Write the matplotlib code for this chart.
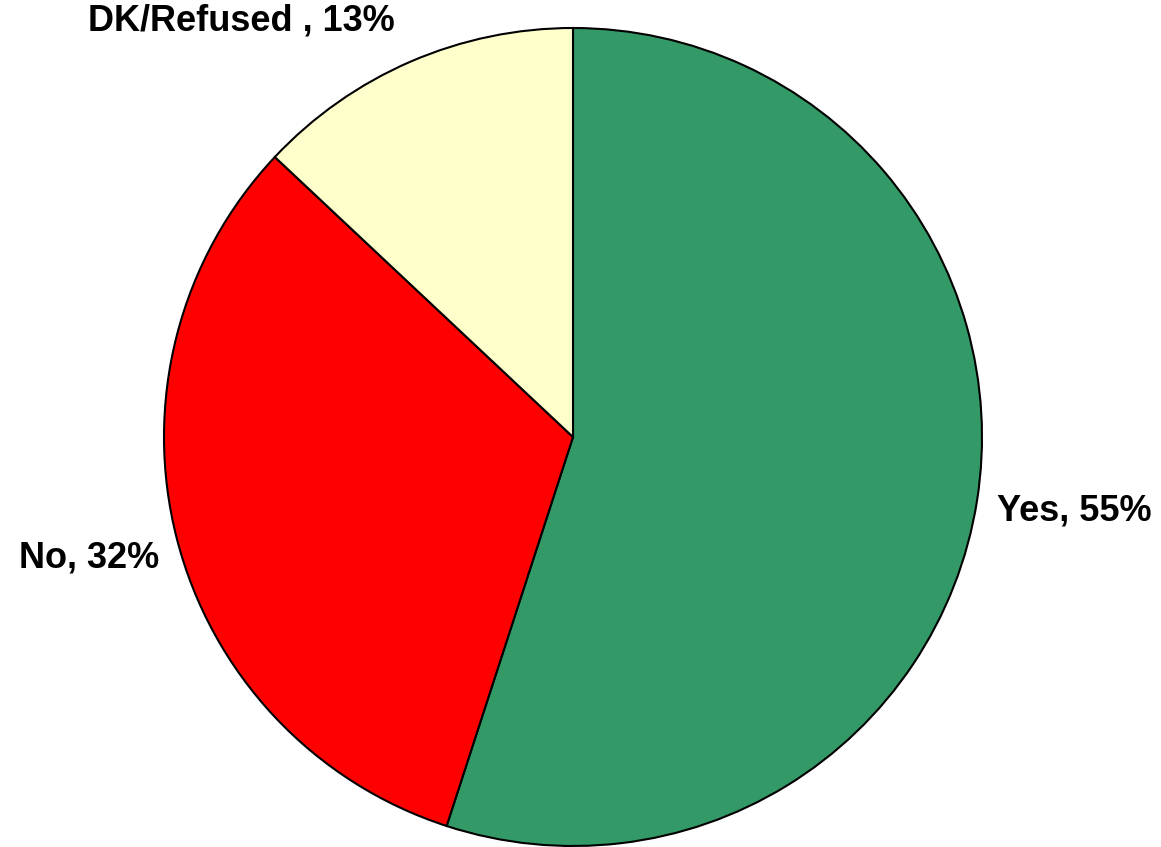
import numpy as np
import matplotlib.pyplot as plt

plt.rcParams['font.family'] = ['Liberation Sans', 'DejaVu Sans']

# Survey answers
categories = ['Yes', 'No', 'DK/Refused ']
shares = [55, 32, 13]
colors = ['#339966', '#FF0000', '#FFFFCC']

# label placement (radius multiple, extra angle in degrees) per slice
label_dist = [1.24, 1.22, 1.30]
label_shift = [0.6, -0.4, 15.2]

fig = plt.figure(figsize=(11.61, 8.47), dpi=100)
r_px = 409
cx, cy = 573, 847 - 437
ax = fig.add_axes([(cx - r_px) / 1161, (cy - r_px) / 847, 2 * r_px / 1161, 2 * r_px / 847])

wedges, _ = ax.pie(shares, colors=colors, startangle=90, counterclock=False,
                   wedgeprops=dict(edgecolor='black', linewidth=1.5))

for w, cat, val, d, s in zip(wedges, categories, shares, label_dist, label_shift):
    mid = np.deg2rad((w.theta1 + w.theta2) / 2 + s)
    ax.text(d * np.cos(mid), d * np.sin(mid), f'{cat}, {val}%',
            ha='center', va='center', fontsize=26, fontweight='bold')

ax.set_xlim(-1, 1)
ax.set_ylim(-1, 1)
ax.set_aspect('equal')
ax.axis('off')

fig.savefig('out.png', dpi=100)
